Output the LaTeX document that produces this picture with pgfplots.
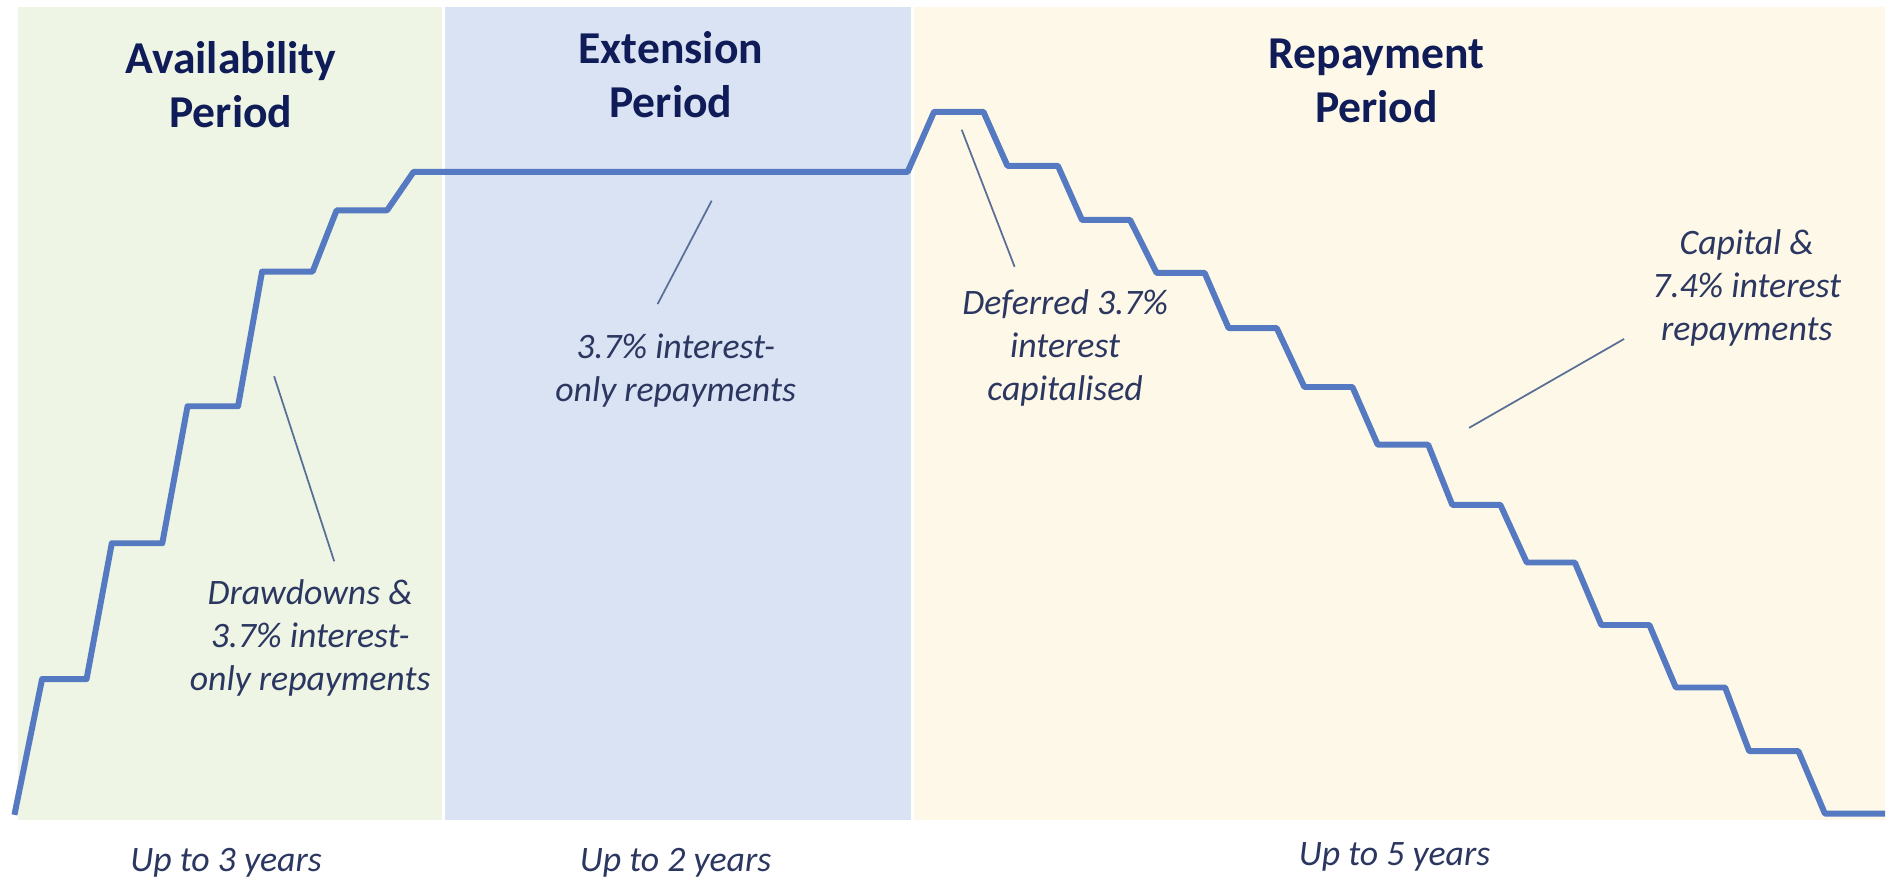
\documentclass[border=0pt]{standalone}
\usepackage{pgfplots}
\pgfplotsset{compat=1.18}
\usepackage{fontspec}
\setmainfont{Carlito}
\definecolor{bggreen}{HTML}{EEF5E5}
\definecolor{bgblue}{HTML}{DAE3F3}
\definecolor{bgyellow}{HTML}{FEF8E9}
\definecolor{linecol}{HTML}{557AC2}
\definecolor{titlecol}{HTML}{0F1C58}
\definecolor{notecol}{HTML}{2B3760}
\definecolor{leadcol}{HTML}{5A6F96}
\begin{document}
\begin{tikzpicture}
\begin{axis}[width=18.88cm, height=8.86cm, scale only axis,
  xmin=0, xmax=1568, ymin=0, ymax=736, hide axis, clip=false]
\path (axis cs:0,0) rectangle (axis cs:1568,736);
% backgrounds
\addplot[draw=none, fill=bggreen, mark=none] coordinates {(15,54) (15,730) (368,730) (368,54)};
\addplot[draw=none, fill=bgblue, mark=none] coordinates {(370,54) (370,730) (758,730) (758,54)};
\addplot[draw=none, fill=bgyellow, mark=none] coordinates {(760,54) (760,730) (1568,730) (1568,54)};
% balance line
\addplot[linecol, line width=1.7pt, mark=none, line join=round] coordinates {
(12,58) (35,171) (72,171) (93,284) (135,284) (156,398) (198,398) (218,510) (260,510)
(280,561) (322,561) (344,593) (755,593) (777,643) (818,643) (838,598) (880,598)
(900,553) (940,553) (962,509) (1002,509) (1022,463) (1062,463) (1085,414) (1125,414)
(1146,366) (1188,366) (1208,316) (1248,316) (1270,268) (1310,268) (1332,216) (1372,216)
(1394,164) (1435,164) (1455,111) (1496,111) (1518,59) (1568,59)};
% leader lines
\addplot[leadcol, line width=0.5pt, mark=none] coordinates {(228,423) (278,269)};
\addplot[leadcol, line width=0.5pt, mark=none] coordinates {(592,569) (547,483)};
\addplot[leadcol, line width=0.5pt, mark=none] coordinates {(800,628) (844,514)};
\addplot[leadcol, line width=0.5pt, mark=none] coordinates {(1351,454) (1222,380)};
% titles
\begin{scope}[every node/.style={inner sep=0pt}]
\node[titlecol, font=\fontsize{13}{15.4}\selectfont\bfseries, align=center] at (axis cs:192,665.5) {Availability\\Period};
\node[titlecol, font=\fontsize{13}{15.4}\selectfont\bfseries, align=center] at (axis cs:558,673.5) {Extension\\Period};
\node[titlecol, font=\fontsize{13}{15.4}\selectfont\bfseries, align=center] at (axis cs:1145,668.5) {Repayment\\Period};
% annotations
\node[notecol, font=\fontsize{10.2}{12.3}\selectfont\itshape, align=center] at (axis cs:258,205) {Drawdowns \&\\3.7\% interest-\\only repayments};
\node[notecol, font=\fontsize{10.2}{12.3}\selectfont\itshape, align=center] at (axis cs:562,428) {3.7\% interest-\\only repayments};
\node[notecol, font=\fontsize{10.2}{12.3}\selectfont\itshape, align=center] at (axis cs:886,446.5) {Deferred 3.7\%\\interest\\capitalised};
\node[notecol, font=\fontsize{10.2}{12.3}\selectfont\itshape, align=center] at (axis cs:1453,496.5) {Capital \&\\7.4\% interest\\repayments};
% durations
\node[notecol, font=\fontsize{10.2}{12.3}\selectfont\itshape] at (axis cs:188,18) {Up to 3 years};
\node[notecol, font=\fontsize{10.2}{12.3}\selectfont\itshape] at (axis cs:562,18) {Up to 2 years};
\node[notecol, font=\fontsize{10.2}{12.3}\selectfont\itshape] at (axis cs:1160,23) {Up to 5 years};
\end{scope}
\end{axis}
\end{tikzpicture}
\end{document}
